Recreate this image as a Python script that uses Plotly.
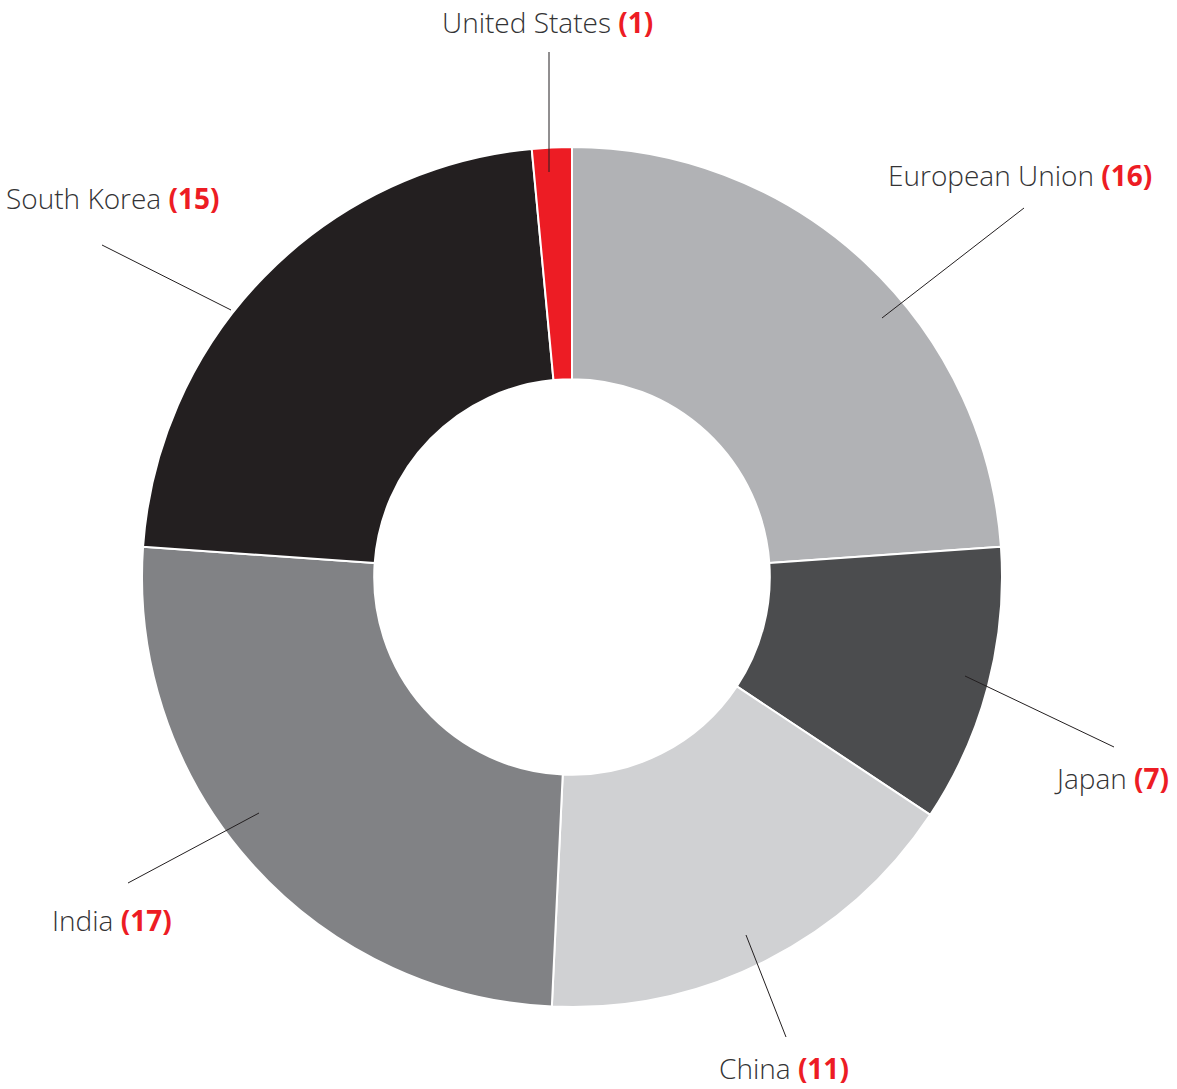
import plotly.graph_objects as go

# Number of entries by economy
countries = ["European Union", "Japan", "China", "India", "South Korea", "United States"]
counts = [16, 7, 11, 17, 15, 1]
colors = ["#b1b2b5", "#4b4c4e", "#d0d1d3", "#818285", "#231f20", "#ed1c24"]

W, H = 1177, 1089
CX, CY, R = 572, 577, 430  # pie centre and radius in pixels

# Label layout: text anchor (left x, middle y) and leader line (outer end, inner end), in pixels
label_layout = {
    "United States": dict(tx=441, ty=22, line=(549, 52, 549, 172)),
    "European Union": dict(tx=887, ty=175, line=(1024, 208, 882, 318)),
    "Japan": dict(tx=1053, ty=778, line=(1114, 747, 965, 676)),
    "China": dict(tx=718, ty=1068, line=(786, 1037, 746, 935)),
    "India": dict(tx=51, ty=920, line=(128, 883, 259, 813)),
    "South Korea": dict(tx=5, ty=198, line=(102, 245, 231, 310)),
}


def px(x):
    return x / W


def py(y):
    return 1 - y / H


fig = go.Figure(
    go.Pie(
        labels=countries,
        values=counts,
        hole=0.46,
        sort=False,
        direction="clockwise",
        rotation=0,
        marker=dict(colors=colors, line=dict(color="white", width=2)),
        textinfo="none",
        hoverinfo="label+value",
        showlegend=False,
        domain=dict(x=[px(CX - R), px(CX + R)], y=[py(CY + R), py(CY - R)]),
    )
)

annotations = []
shapes = []
for name, n in zip(countries, counts):
    lay = label_layout[name]
    annotations.append(
        dict(
            x=px(lay["tx"]),
            y=py(lay["ty"]),
            xref="paper",
            yref="paper",
            xanchor="left",
            yanchor="middle",
            showarrow=False,
            borderpad=0,
            text=f"{name} <b><span style='color:#ed1c24'>({n})</span></b>",
            font=dict(family="Open Sans", size=28, color="#333335", weight=300),
        )
    )
    x0, y0, x1, y1 = lay["line"]
    shapes.append(
        dict(
            type="line",
            xref="paper",
            yref="paper",
            x0=px(x0),
            y0=py(y0),
            x1=px(x1),
            y1=py(y1),
            line=dict(color="#231f20", width=1),
        )
    )

fig.update_layout(
    width=W,
    height=H,
    margin=dict(l=0, r=0, t=0, b=0),
    paper_bgcolor="white",
    plot_bgcolor="white",
    annotations=annotations,
    shapes=shapes,
)

fig.write_html("out.html")
